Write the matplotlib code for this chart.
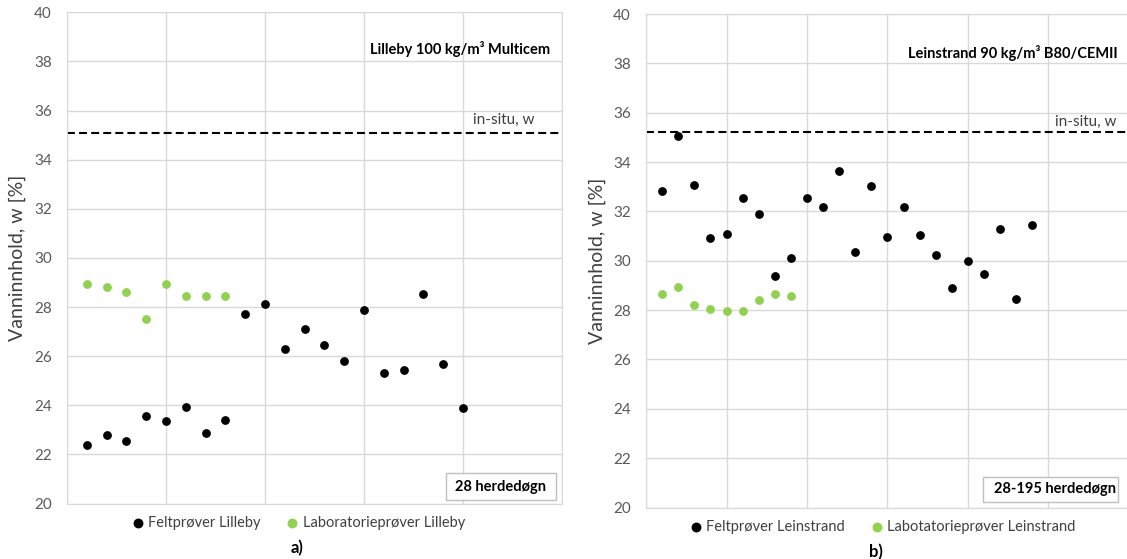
import matplotlib.pyplot as plt
from matplotlib.patches import Rectangle

plt.rcParams['font.family'] = ['Lato', 'DejaVu Sans']

# Lilleby (panel a)
lilleby_felt = [22.40, 22.79, 22.56, 23.55, 23.35, 23.91, 22.89, 23.39, 27.70, 28.11,
                26.30, 27.10, 26.46, 25.80, 27.86, 25.31, 25.43, 28.52, 25.70, 23.89]
lilleby_lab = [28.93, 28.82, 28.62, 27.53, 28.93, 28.45, 28.45, 28.45]
lilleby_insitu = 35.09

# Leinstrand (panel b)
leinstrand_felt = [32.82, 35.04, 33.09, 30.94, 31.10, 32.55, 31.90, 29.38, 30.11, 32.55,
                   32.16, 33.64, 30.37, 33.02, 30.97, 32.18, 31.06, 30.24, 28.88, 29.98,
                   29.48, 31.27, 28.45, 31.43]
leinstrand_lab = [28.65, 28.92, 28.19, 28.05, 27.98, 27.98, 28.39, 28.65, 28.59]
leinstrand_insitu = 35.20

GRID = '#d9d9d9'
GREEN = '#92d050'
TXT = '#404040'


def panel(ax, felt, lab, insitu, xmax, title, title_xy, insitu_xy, box, box_label,
          names, leg_x, leg_y, letter_x, ypad):
    ax.scatter(range(1, len(felt) + 1), felt, s=28, color='black', label=names[0], zorder=3)
    ax.scatter(range(1, len(lab) + 1), lab, s=28, color=GREEN, label=names[1], zorder=3)
    ax.axhline(insitu, color='black', lw=1.5, linestyle=(0, (3.8, 2.0)), zorder=2)

    ax.set_xlim(0, xmax)
    ax.set_ylim(20, 40)
    ax.set_xticks(range(0, xmax + 1, 5))
    ax.set_yticks(range(20, 41, 2))
    ax.grid(True, color=GRID, lw=1)
    ax.set_axisbelow(True)
    ax.tick_params(axis='x', length=0, labelbottom=False)
    ax.tick_params(axis='y', length=0, pad=11, labelsize=11, labelcolor='#595959')
    for s in ax.spines.values():
        s.set_color(GRID)
    ax.set_ylabel('Vanninnhold, w [%]', fontsize=14, color=TXT, labelpad=ypad)

    ax.text(title_xy[0], title_xy[1], title, ha='right', va='center',
            fontsize=10.5, fontweight='bold', color='black')
    ax.text(insitu_xy[0], insitu_xy[1], 'in-situ, w', ha='right', va='center',
            fontsize=11, color=TXT)

    x0, y0, x1, y1 = box
    ax.add_patch(Rectangle((x0, y0), x1 - x0, y1 - y0, facecolor='white',
                           edgecolor='#bfbfbf', lw=1, zorder=4))
    ax.text(x0 + (x1 - x0) * 0.08, (y0 + y1) / 2, box_label, ha='left', va='center',
            fontsize=10.5, fontweight='bold', color='black', zorder=5)

    ax.legend(loc='center', bbox_to_anchor=(leg_x, leg_y), ncol=2, frameon=False,
              fontsize=10.5, labelcolor=TXT, handlelength=1.0, handletextpad=0.2,
              columnspacing=1.7, markerscale=1.15)
    ax.text(letter_x, -0.09, names[2], transform=ax.transAxes, ha='center', va='center',
            fontsize=12, fontweight='bold', color='black')


fig = plt.figure(figsize=(11.27, 5.59), dpi=100)
ax1 = fig.add_axes([67 / 1127, 1 - 503.5 / 559, 495 / 1127, 491.2 / 559])
ax2 = fig.add_axes([646 / 1127, 1 - 507.5 / 559, 483 / 1127, 493.5 / 559])

panel(ax1, lilleby_felt, lilleby_lab, lilleby_insitu, 25,
      'Lilleby 100 kg/m³ Multicem', (24.4, 38.5), (23.6, 35.62),
      (19.15, 20.13, 24.7, 21.23), '28 herdedøgn',
      ['Feltprøver Lilleby', 'Laboratorieprøver Lilleby', 'a)'], 0.466, -0.04, 0.465, 6)
panel(ax2, leinstrand_felt, leinstrand_lab, leinstrand_insitu, 30,
      'Leinstrand 90 kg/m³ B80/CEMII', (29.3, 38.4), (29.2, 35.63),
      (20.93, 20.24, 29.32, 21.22), '28-195 herdedøgn',
      ['Feltprøver Leinstrand', 'Labotatorieprøver Leinstrand', 'b)'], 0.489, -0.04, 0.476, 5)

fig.savefig('out.png', dpi=100)
